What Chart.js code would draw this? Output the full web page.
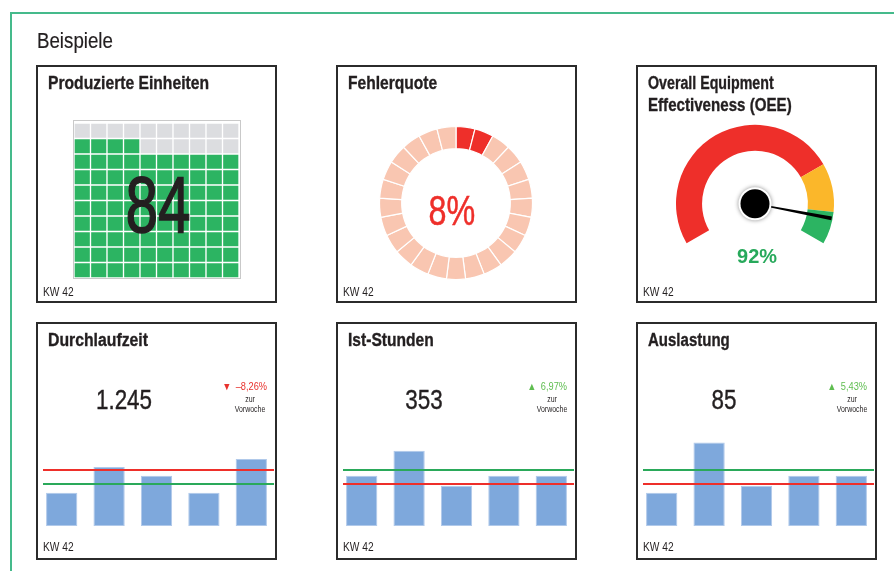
<!DOCTYPE html>
<html lang="de">
<head>
<meta charset="utf-8">
<title>Beispiele – Kennzahlen</title>
<script src="https://cdn.jsdelivr.net/npm/chart.js@4.4.1/dist/chart.umd.min.js"></script>
<style>
  html, body { margin: 0; padding: 0; background: #fff; }
  body { position: relative; width: 894px; height: 571px; overflow: hidden;
         font-family: "Liberation Sans", Arial, Helvetica, sans-serif; color: #231f20; }
  .rahmen { position: absolute; left: 10px; top: 12px; width: 1000px; height: 1000px;
            border-left: 2px solid #45ba8b; border-top: 2px solid #45ba8b; }
  .kachel { position: absolute; width: 241px; height: 238px; box-sizing: border-box;
            border: 2px solid #2b2b2b; }
  .txt { position: absolute; white-space: nowrap; line-height: 1; }
  canvas { position: absolute; }
  #waffelRand { position: absolute; left: 73px; top: 120px; width: 168px; height: 159px;
                box-sizing: border-box; border: 1px solid #c9c9c9; }
</style>
</head>
<body>
<div class="rahmen"></div>
<div id="waffelRand"></div>
<canvas id="waffel" width="165" height="155" style="left:74px;top:123px"></canvas>
<canvas id="fehler" width="164" height="164" style="left:374px;top:121px"></canvas>
<canvas id="oee" width="180" height="160" style="left:665px;top:104px"></canvas>

<script>
// Werte
const kw = "KW 42";

// Produzierte Einheiten (Waffel 10 x 10)
const waffelSpalten = 10;
const waffelZeilen = 10;
const produziert = 84;

// Fehlerquote in %
const fehlerquote = 8;
const fehlerSegmente = 25;

// OEE: Bereiche rot / gelb / grün und aktueller Wert
const oeeBereiche = [75, 15, 10];
const oeeWert = 92;

// Wochenverlauf
const wochen = ["KW 38", "KW 39", "KW 40", "KW 41", "KW 42"];
const durchlaufzeit = [620, 1095, 935, 620, 1245];
const durchlaufzeitLinien = [1040, 785];   // [rot, grün]
const istStunden = [353, 528, 283, 353, 353];
const istStundenLinien = [297, 393];
const auslastung = [56, 141, 68, 85, 85];
const auslastungLinien = [71.5, 95];
const veraenderung = ["–8,26%", "6,97%", "5,43%"];
const skalaMax = [1970, 744, 179];

// Farben
const ROT = "#ee2f2a", GRUEN = "#2cb462", GELB = "#fbb72a", GRAU = "#dcdde0";
const HELLROT = "#f9c6b1", BALKEN = "#7ea8dc";

Chart.defaults.animation = false;
Chart.defaults.responsive = false;
Chart.defaults.events = [];
Chart.defaults.plugins.legend.display = false;
Chart.defaults.plugins.tooltip.enabled = false;

function schreibe(text, x, top, size, o) {
  o = o || {};
  var d = document.createElement("div");
  d.className = "txt";
  d.innerHTML = text;
  d.style.fontSize = size + "px";
  d.style.top = top + "px";
  if (o.bold) d.style.fontWeight = "bold";
  if (o.color) d.style.color = o.color;
  if (o.lh) d.style.lineHeight = o.lh + "px";
  if (o.stroke) d.style.webkitTextStroke = o.stroke + "px " + (o.color || "#231f20");
  var align = o.align || "left";
  if (align === "left") {
    d.style.left = x + "px";
  } else if (align === "center") {
    d.style.left = (x - 200) + "px"; d.style.width = "400px"; d.style.textAlign = "center";
  } else {
    d.style.left = (x - 400) + "px"; d.style.width = "400px"; d.style.textAlign = "right";
  }
  d.style.transformOrigin = align;
  d.style.transform = "scaleX(" + (o.scale || 1) + ")";
  document.body.appendChild(d);
}

function formatiere(n) {
  return String(n).replace(/\B(?=(\d{3})+(?!\d))/g, ".");
}

// Kacheln
var spalten = [36, 336, 636], zeilen = [65, 322];
zeilen.forEach(function (t) {
  spalten.forEach(function (l) {
    var k = document.createElement("div");
    k.className = "kachel";
    k.style.left = l + "px"; k.style.top = t + "px";
    document.body.appendChild(k);
  });
});

schreibe("Beispiele", 37, 30, 22, { scale: 0.85, stroke: 0.2 });

// obere Reihe
schreibe("Produzierte Einheiten", 48, 74.4, 18, { bold: true, scale: 0.87, stroke: 0.35 });
schreibe("Fehlerquote", 348, 74.4, 18, { bold: true, scale: 0.865, stroke: 0.35 });
schreibe("Overall Equipment", 648, 74.4, 18, { bold: true, scale: 0.79, stroke: 0.35 });
schreibe("Effectiveness (OEE)", 648, 96, 18, { bold: true, scale: 0.84, stroke: 0.35 });
spalten.forEach(function (l) { schreibe(kw, l + 7, 286.4, 12, { scale: 0.85 }); });

// Waffel
var waffelDatasets = [];
for (var r = 0; r < waffelZeilen; r++) {
  waffelDatasets.push({
    data: new Array(waffelSpalten).fill(1),
    backgroundColor: Array.from({ length: waffelSpalten }, function (_, c) {
      return r * waffelSpalten + c < produziert ? GRUEN : GRAU;
    }),
    borderColor: "#fff",
    borderWidth: 1,
    borderSkipped: false,
    barPercentage: 1,
    categoryPercentage: 1
  });
}
new Chart(document.getElementById("waffel"), {
  type: "bar",
  data: { labels: Array.from({ length: waffelSpalten }, function (_, i) { return i + 1; }), datasets: waffelDatasets },
  options: {
    scales: {
      x: { stacked: true, display: false },
      y: { stacked: true, display: false, min: 0, max: waffelZeilen }
    }
  }
});
schreibe(String(produziert), 157.5, 164.7, 79, { align: "center", scale: 0.74, stroke: 1.4 });

// Fehlerquote
var anteil = 100 / fehlerSegmente;
new Chart(document.getElementById("fehler"), {
  type: "doughnut",
  data: {
    labels: Array.from({ length: fehlerSegmente }, function (_, i) { return i + 1; }),
    datasets: [{
      data: new Array(fehlerSegmente).fill(anteil),
      backgroundColor: Array.from({ length: fehlerSegmente }, function (_, i) {
        return i < fehlerquote / anteil ? ROT : HELLROT;
      }),
      borderColor: "#fff",
      borderWidth: 1.2,
      borderJoinStyle: "miter"
    }]
  },
  options: { radius: 76.5, cutout: "71%" }
});
schreibe(fehlerquote + "%", 451.5, 189.5, 42, { align: "center", scale: 0.77, color: ROT, stroke: 0.5 });

// OEE Tacho
var zeiger = {
  id: "zeiger",
  afterDatasetsDraw: function (chart) {
    var arc = chart.getDatasetMeta(0).data[0];
    var ctx = chart.ctx, cx = arc.x, cy = arc.y, ro = arc.outerRadius - 1;
    var start = (chart.options.rotation - 90) * Math.PI / 180;
    var w = start + oeeWert / 100 * chart.options.circumference * Math.PI / 180;
    var dx = Math.cos(w), dy = Math.sin(w), nx = -dy, ny = dx;
    ctx.save();
    ctx.fillStyle = "#000";
    ctx.beginPath();
    ctx.moveTo(cx + nx * 0.6, cy + ny * 0.6);
    ctx.lineTo(cx + dx * ro + nx * 1.8, cy + dy * ro + ny * 1.8);
    ctx.lineTo(cx + dx * ro - nx * 1.8, cy + dy * ro - ny * 1.8);
    ctx.lineTo(cx - nx * 0.6, cy - ny * 0.6);
    ctx.closePath();
    ctx.fill();
    ctx.shadowColor = "rgba(0,0,0,0.45)";
    ctx.shadowBlur = 4;
    ctx.fillStyle = "#fff";
    ctx.beginPath(); ctx.arc(cx, cy, 16.5, 0, Math.PI * 2); ctx.fill();
    ctx.shadowColor = "transparent";
    ctx.fillStyle = "#000";
    ctx.beginPath(); ctx.arc(cx, cy, 14.5, 0, Math.PI * 2); ctx.fill();
    ctx.restore();
  }
};
new Chart(document.getElementById("oee"), {
  type: "doughnut",
  data: {
    labels: ["rot", "gelb", "grün"],
    datasets: [{ data: oeeBereiche, backgroundColor: [ROT, GELB, GRUEN], borderWidth: 0 }]
  },
  options: { rotation: -120, circumference: 240, radius: 79, cutout: "67%" },
  plugins: [zeiger]
});
schreibe(oeeWert + "%", 757, 245.3, 21, { bold: true, align: "center", scale: 0.95, color: "#27a95b" });

// untere Reihe
var kacheln = [
  { titel: "Durchlaufzeit", skala: 0.877, daten: durchlaufzeit, linien: durchlaufzeitLinien, pfeil: "▼", farbe: "#e8322d" },
  { titel: "Ist-Stunden", skala: 0.866, daten: istStunden, linien: istStundenLinien, pfeil: "▲", farbe: "#5fbd50" },
  { titel: "Auslastung", skala: 0.834, daten: auslastung, linien: auslastungLinien, pfeil: "▲", farbe: "#5fbd50" }
];

function zielLinien(werte) {
  return {
    id: "zielLinien",
    afterDatasetsDraw: function (chart) {
      var ctx = chart.ctx, a = chart.chartArea, y = chart.scales.y;
      [[werte[0], ROT], [werte[1], "#2aa95a"]].forEach(function (l) {
        var py = Math.round(y.getPixelForValue(l[0]));
        ctx.save();
        ctx.strokeStyle = l[1];
        ctx.lineWidth = 2;
        ctx.beginPath();
        ctx.moveTo(a.left + 5, py);
        ctx.lineTo(a.right - 1, py);
        ctx.stroke();
        ctx.restore();
      });
    }
  };
}

kacheln.forEach(function (k, i) {
  var l = spalten[i];
  schreibe(k.titel, l + 12, 331.2, 18, { bold: true, scale: k.skala, stroke: 0.35 });
  schreibe(formatiere(k.daten[k.daten.length - 1]), l + 88, 386.5, 27, { align: "center", scale: 0.83, stroke: 0.4 });
  schreibe('<span style="font-size:10.5px;margin-right:2px">' + k.pfeil + '</span> ' + veraenderung[i], l + 231, 380.5, 10.5,
    { align: "right", scale: 0.88, color: k.farbe });
  schreibe("zur<br>Vorwoche", l + (i === 0 ? 214 : 216), 393.7, 8.5, { align: "center", scale: 0.82, lh: 10 });
  schreibe(kw, l + 7, 541.1, 12, { scale: 0.85 });

  var c = document.createElement("canvas");
  c.width = 237; c.height = 106;
  c.style.left = (l + 2) + "px"; c.style.top = "420px";
  document.body.appendChild(c);
  new Chart(c, {
    type: "bar",
    data: {
      labels: wochen,
      datasets: [{
        data: k.daten,
        backgroundColor: BALKEN,
        borderColor: "#b0c9ea",
        borderWidth: 1,
        borderSkipped: false,
        barPercentage: 0.66,
        categoryPercentage: 1
      }]
    },
    options: {
      scales: {
        x: { display: false },
        y: { display: false, min: 0, max: skalaMax[i] }
      }
    },
    plugins: [zielLinien(k.linien)]
  });
});
</script>
</body>
</html>
